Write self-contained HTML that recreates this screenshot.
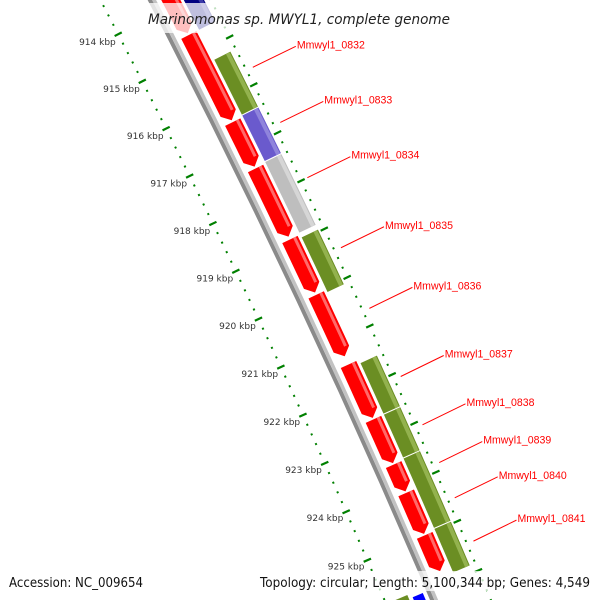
<!DOCTYPE html>
<html><head><meta charset="utf-8"><style>
html,body{margin:0;padding:0;background:#fff;width:600px;height:600px;overflow:hidden;}
svg{display:block;overflow:hidden;}
</style></head><body>
<svg id="map" width="600" height="600" viewBox="0 0 600 600" xmlns="http://www.w3.org/2000/svg">
<rect x="0" y="0" width="600" height="600" fill="#fff"/>
<g id="ticks"></g>
<g id="backbone"></g>
<g id="genes"></g>
<g id="labels"></g>
<rect x="140" y="3" width="320" height="30" fill="#fff" opacity="0.75"/>
<text x="148" y="24" font-family="DejaVu Sans, Liberation Sans, sans-serif" font-style="italic" font-size="14" fill="#222" textLength="302" lengthAdjust="spacingAndGlyphs">Marinomonas sp. MWYL1, complete genome</text>
<rect x="0" y="571" width="600" height="20" fill="#fff" opacity="0.75"/>
<text x="9" y="587" font-family="DejaVu Sans, Liberation Sans, sans-serif" font-size="13" fill="#111" textLength="134" lengthAdjust="spacingAndGlyphs">Accession: NC_009654</text>
<text x="260" y="587" font-family="DejaVu Sans, Liberation Sans, sans-serif" font-size="13" fill="#111" textLength="330" lengthAdjust="spacingAndGlyphs">Topology: circular; Length: 5,100,344 bp; Genes: 4,549</text>
</svg>
<script>
// ---- data ----
const tickKbp = [914, 915, 916, 917, 918, 919, 920, 921, 922, 923, 924, 925];
const tickLabels = ["914 kbp","915 kbp","916 kbp","917 kbp","918 kbp","919 kbp","920 kbp","921 kbp","922 kbp","923 kbp","924 kbp","925 kbp"];
const fwdStarts = [913.4, 914.62, 916.45, 917.42, 918.9, 920.05, 921.49, 922.62, 923.55, 924.13, 925.0];
const fwdEnds   = [914.58, 916.41, 917.38, 918.84, 920.0, 921.32, 922.59, 923.52, 924.1, 924.97, 925.73];
const outStarts = [913.5, 915.24, 916.41, 917.38, 918.95, 921.55, 922.61, 923.51, 924.95];
const outEnds   = [914.63, 916.41, 917.38, 918.87, 920.1, 922.61, 923.51, 924.95, 925.86];
const outKinds  = ["navy","green","purple","grey","green","green","green","green","green"];
const revStarts = [925.98, 925.9];
const revEnds   = [927.0, 927.0];
const revKinds  = ["blue","green"];
const labelNames = ["Mmwyl1_0832","Mmwyl1_0833","Mmwyl1_0834","Mmwyl1_0835","Mmwyl1_0836","Mmwyl1_0837","Mmwyl1_0838","Mmwyl1_0839","Mmwyl1_0840","Mmwyl1_0841"];
const labelKbp = [915.7, 916.85, 918.0, 919.45, 920.7, 922.1, 923.09, 923.86, 924.58, 925.46];

// ---- axis ----
const CX = -7561, CY = 3994, R0 = 8640;
function theta(p){ return -0.4424 + (p - 919.5) * 0.006125; }
function pt(p, r){ const t = theta(p); return [CX + (R0 + r) * Math.cos(t), CY + (R0 + r) * Math.sin(t)]; }
function f(v){ return v[0].toFixed(2) + "," + v[1].toFixed(2); }
const NS = "http://www.w3.org/2000/svg";
function band(p1, p2, r1, r2){
  const a = [], b = [];
  for (let i = 0; i <= 8; i++){ const p = p1 + (p2 - p1) * i / 8; a.push(f(pt(p, r2))); b.unshift(f(pt(p, r1))); }
  return a.concat(b).join(" ");
}
function arrow(p1, p2, r1, r2){
  const h = 0.15, pe = Math.max(p1, p2 - h), a = [], b = [];
  for (let i = 0; i <= 8; i++){ const p = p1 + (pe - p1) * i / 8; a.push(f(pt(p, r2))); b.unshift(f(pt(p, r1))); }
  a.push(f(pt(p2, (r1 + r2) / 2)));
  return a.concat(b).join(" ");
}

// ---- ticks ----
const tg = document.getElementById("ticks");
[0, 98].forEach(function(rr){
  for (let k = 0; k <= 70; k++){
    const p = 913 + k * 0.2;
    const major = Math.abs(p - Math.round(p)) < 1e-6;
    const l = document.createElementNS(NS, "line");
    const d = major ? 4 : 1;
    const a = pt(p, rr - d), b = pt(p, rr + d);
    l.setAttribute("x1", a[0]); l.setAttribute("y1", a[1]); l.setAttribute("x2", b[0]); l.setAttribute("y2", b[1]);
    l.setAttribute("stroke", "#008000"); l.setAttribute("stroke-width", major ? 2.2 : 2);
    
    
    tg.appendChild(l);
  }
});
tickKbp.forEach(function(p, i){
  const q = pt(p - 0.05, -22);
  const t = document.createElementNS(NS, "text");
  t.setAttribute("x", q[0]); t.setAttribute("y", q[1] + 3);
  t.setAttribute("text-anchor", "middle");
  t.setAttribute("font-family", "DejaVu Sans, Liberation Sans, sans-serif");
  t.setAttribute("font-size", "9"); t.setAttribute("fill", "#333");
  t.textContent = tickLabels[i];
  
  
  tg.appendChild(t);
});

// ---- backbone ----
const bg = document.getElementById("backbone");
[[42, 46, "#8a8a8a"], [46, 49.5, "#c2c2c2"]].forEach(function(s){
  const pg = document.createElementNS(NS, "polygon");
  pg.setAttribute("points", band(912.5, 927.5, s[0], s[1]));
  pg.setAttribute("fill", s[2]);
  
  
  bg.appendChild(pg);
});

// ---- genes ----
const gg = document.getElementById("genes");
const colors = {navy:["#000080","#3a3aa8"], green:["#6b8e23","#93b24e"], purple:["#6a5acd","#8f84dc"], grey:["#bebebe","#d6d6d6"], blue:["#0000ff","#5a5aff"]};
fwdStarts.forEach(function(s, i){
  const pg = document.createElementNS(NS, "polygon");
  pg.setAttribute("points", arrow(s, fwdEnds[i], 54, 71));
  pg.setAttribute("fill", "#ff0000");
  
  
  gg.appendChild(pg);
  const st = document.createElementNS(NS, "polygon");
  st.setAttribute("points", band(s, Math.max(s, fwdEnds[i] - 0.17), 66, 69));
  st.setAttribute("fill", "#ff6a6a");
  
  
  gg.appendChild(st);
});
outStarts.forEach(function(s, i){
  const c = colors[outKinds[i]];
  const pg = document.createElementNS(NS, "polygon");
  pg.setAttribute("points", band(s + 0.01, outEnds[i] - 0.01, 74, 92));
  pg.setAttribute("fill", c[0]);
  
  
  gg.appendChild(pg);
  const st = document.createElementNS(NS, "polygon");
  st.setAttribute("points", band(s + 0.01, outEnds[i] - 0.01, 87, 91));
  st.setAttribute("fill", c[1]);
  
  
  gg.appendChild(st);
});
revStarts.forEach(function(s, i){
  const c = colors[revKinds[i]];
  const pg = document.createElementNS(NS, "polygon");
  pg.setAttribute("points", revKinds[i] === "blue" ? band(s, revEnds[i], 27, 38) : band(s, revEnds[i], 9, 23));
  pg.setAttribute("fill", c[0]);
  
  
  gg.appendChild(pg);
});

// ---- labels ----
const lg = document.getElementById("labels");
labelNames.forEach(function(n, i){
  const e = pt(labelKbp[i], 105);
  const sx = e[0] + 43, sy = e[1] - 21;
  const l = document.createElementNS(NS, "line");
  l.setAttribute("x1", e[0]); l.setAttribute("y1", e[1]); l.setAttribute("x2", sx); l.setAttribute("y2", sy);
  l.setAttribute("stroke", "#ff0000"); l.setAttribute("stroke-width", "1");
  
  
  lg.appendChild(l);
  const t = document.createElementNS(NS, "text");
  t.setAttribute("x", sx + 1); t.setAttribute("y", sy + 2);
  t.setAttribute("font-family", "Liberation Sans, sans-serif");
  t.setAttribute("font-size", "11"); t.setAttribute("fill", "#ff0000");
  t.setAttribute("textLength", "68"); t.setAttribute("lengthAdjust", "spacingAndGlyphs");
  t.textContent = n;
  
  
  lg.appendChild(t);
});
</script>
</body></html>
